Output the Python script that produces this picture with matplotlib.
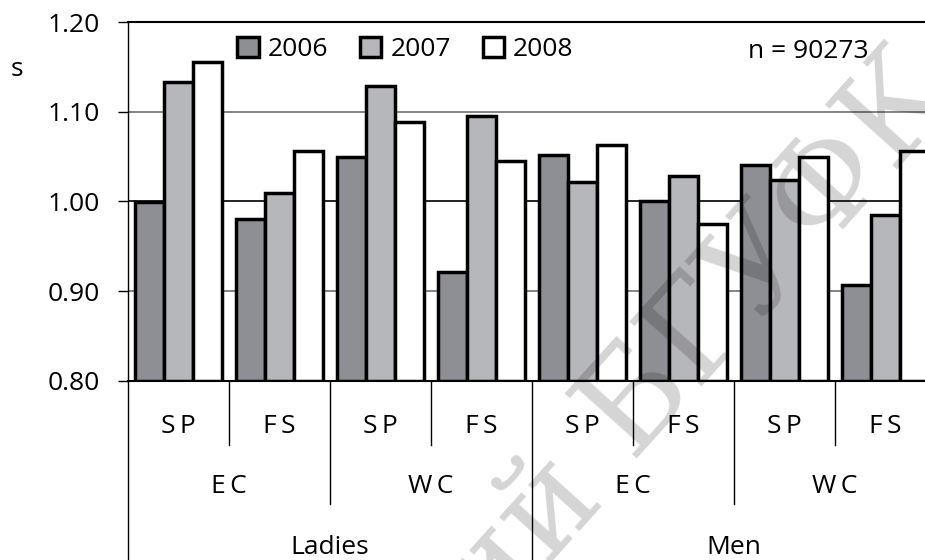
import numpy as np
import matplotlib
matplotlib.use("Agg")
import matplotlib.pyplot as plt
from matplotlib.lines import Line2D

plt.rcParams['font.family'] = ['Open Sans', 'DejaVu Sans']

# Dados (tempo relativo, s)
anos = ['2006', '2007', '2008']
provas = ['S\u2009P', 'F\u2009S'] * 4
campeonatos = ['E\u2009C', 'W\u2009C', 'E\u2009C', 'W\u2009C']
generos = ['Ladies', 'Men']

v2006 = [1.000, 0.980, 1.050, 0.921, 1.052, 1.001, 1.041, 0.907]
v2007 = [1.133, 1.009, 1.129, 1.095, 1.022, 1.028, 1.024, 0.985]
v2008 = [1.155, 1.056, 1.089, 1.045, 1.063, 0.975, 1.050, 1.056]

cores = ['#8e8f94', '#b6b7bb', '#ffffff']
y_ticks = [0.80, 0.90, 1.00, 1.10, 1.20]
n_texto = 'n = 90273'

fig = plt.figure(figsize=(9.25, 5.6), dpi=100)
ax = fig.add_axes([128 / 925, 179 / 560, 808 / 925, 359 / 560])

x = np.arange(len(provas))
w = 0.285
base = y_ticks[0]
for i, (ano, vals) in enumerate(zip(anos, [v2006, v2007, v2008])):
    ax.bar(x + (i - 1) * w, np.array(vals) - base, bottom=base, width=w,
           color=cores[i], edgecolor='black', linewidth=2.5, label=ano, zorder=3)

ax.set_xlim(-0.5, len(provas) - 0.5)
ax.set_ylim(y_ticks[0], y_ticks[-1])
ax.set_yticks(y_ticks)
ax.set_yticklabels([f'{t:.2f}' for t in y_ticks])
ax.set_xticks([])
ax.tick_params(axis='y', direction='out', length=7.2, width=1, pad=13, labelsize=19)

ax.set_axisbelow(True)
ax.yaxis.grid(True, color='#6e6e6e', linewidth=1.2)
for t, g in zip(y_ticks, ax.get_ygridlines()):
    if abs(t - 1.0) < 1e-9:
        g.set_color('black')

ax.spines['right'].set_visible(False)
ax.spines['top'].set_linewidth(1.5)
ax.spines['bottom'].set_linewidth(1.5)
ax.spines['left'].set_linewidth(1)

# Eixo categórico em três níveis
trans = ax.get_xaxis_transform()
for i, p in enumerate(provas):
    ax.text(i, -0.128, p, transform=trans, ha='center', va='center', fontsize=19)
for j, c in enumerate(campeonatos):
    ax.text(2 * j + 0.5, -0.295, c, transform=trans, ha='center', va='center', fontsize=19)
for k, g in enumerate(generos):
    ax.text(4 * k + 1.5, -0.465, g, transform=trans, ha='center', va='center', fontsize=19)

for b in np.arange(0.5, len(provas) - 0.5, 1.0):
    if b % 4 == 3.5:
        y_fim = -0.6
    elif b % 2 == 1.5:
        y_fim = -0.343
    else:
        y_fim = -0.178
    ax.add_line(Line2D([b, b], [0, y_fim], transform=trans, color='black',
                       linewidth=1, clip_on=False))
ax.add_line(Line2D([-0.5, -0.5], [0, -0.6], transform=trans, color='black',
                   linewidth=1, clip_on=False))

ax.legend(loc='upper left', bbox_to_anchor=(0.1355, 0.958), ncol=3, frameon=False,
          fontsize=19, handlelength=0.8, handleheight=0.8, handletextpad=0.35,
          columnspacing=1.2, borderaxespad=0, borderpad=0)

ax.text(0.8416, 0.918, n_texto, transform=ax.transAxes, ha='center', va='center',
        fontsize=19)
fig.text(17 / 925, 1 - 70 / 560, 's', ha='center', va='center', fontsize=19)

# marca d'água
fig.text(0.654, 0.116, 'Репозиторий', rotation=48, rotation_mode='anchor',
         ha='right', va='baseline', fontsize=95, family='DejaVu Serif',
         color='black', alpha=0.17)
fig.text(0.654, 0.116, ' БГУФК', rotation=48, rotation_mode='anchor',
         ha='left', va='baseline', fontsize=95, family='DejaVu Serif',
         color='black', alpha=0.17)

plt.savefig('out.png', dpi=100)
